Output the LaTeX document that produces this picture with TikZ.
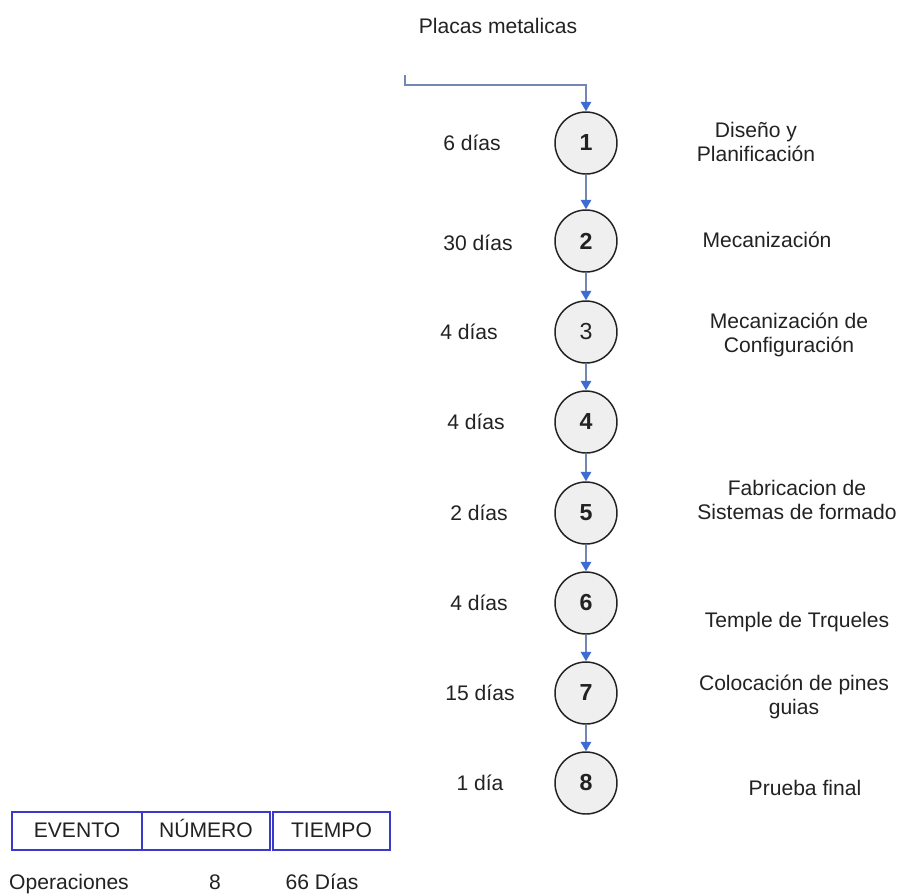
\documentclass[tikz,border=0pt]{standalone}
\usepackage{fontspec}
\setmainfont{Liberation Sans}
\usetikzlibrary{arrows.meta,positioning}
\definecolor{ink}{HTML}{222222}
\definecolor{linegray}{HTML}{7088B2}
\definecolor{tipblue}{HTML}{3D6CD4}
\definecolor{boxblue}{HTML}{3A3AC8}
\definecolor{ringfill}{HTML}{EFEFEF}

\begin{document}
\begin{tikzpicture}[x=0.016667cm,y=-0.016667cm,every node/.style={text=ink,font=\fontsize{10}{11.5}\selectfont},
  ev/.style={circle,draw=ink,line width=0.7pt,fill=ringfill,minimum size=1.033cm,inner sep=0pt,font=\fontsize{11}{12}\selectfont},
  lbl/.style={align=center},
  cell/.style={draw=boxblue,line width=0.6pt,minimum height=0.633cm,inner sep=0pt,text height=7.5pt,text depth=1.5pt},
  flow/.style={draw=linegray,line width=0.8pt,-{Triangle[length=4.5pt,width=5pt,color=tipblue]}}]
  \useasboundingbox (0,0) rectangle (899,896);
  % events
  \node[ev] (n1) at (586,143) {\bfseries 1}; \node[ev] (n2) at (586,241) {\bfseries 2};
  \node[ev] (n3) at (586,332) {3}; \node[ev] (n4) at (586,422) {\bfseries 4};
  \node[ev] (n5) at (586,513) {\bfseries 5}; \node[ev] (n6) at (586,603) {\bfseries 6};
  \node[ev] (n7) at (586,693) {\bfseries 7}; \node[ev] (n8) at (586,783) {\bfseries 8};
  \node (src) at (498,26) {Placas metalicas};
  \coordinate (feed) at (405,75);
  \draw[flow] (feed) -- ++(0,10) -| (n1);
  \foreach \i [count=\j from 2] in {1,...,7} \draw[flow] (n\i) -- (n\j);
  % times
  \node (t1) at (472,143) {6 días}; \node (t2) at (478,243) {30 días};
  \node (t3) at (469,332) {4 días}; \node (t4) at (476,422) {4 días};
  \node (t5) at (479,513) {2 días}; \node (t6) at (479,603) {4 días};
  \node (t7) at (480,693) {15 días}; \node (t8) at (480,783) {1 día};
  % tasks
  \node[lbl] (d1) at (756,142) {Diseño y\\Planificación};
  \node[lbl] (d2) at (767,240) {Mecanización};
  \node[lbl] (d3) at (789,335) {Mecanización de\\Configuración};
  \node[lbl] (d5) at (797,500) {Fabricacion de\\Sistemas de formado};
  \node[lbl] (d6) at (797,622) {Temple de Trqueles};
  \node[lbl] (d7) at (794,697) {Colocación de pines\\guias};
  \node[lbl] (d8) at (805,788) {Prueba final};
  % summary
  \node[cell,minimum width=2.167cm] (h1) at (77,831) {EVENTO};
  \node[cell,minimum width=2.133cm] (h2) at (206,831) {NÚMERO};
  \node[cell,minimum width=1.95cm] (h3) at (331.5,831) {TIEMPO};
  \node[anchor=base] (r1) at (69,889) {Operaciones}; \node[anchor=base] (r2) at (215,889) {8};
  \node[anchor=base] (r3) at (322,889) {66 Días};
\end{tikzpicture}
\end{document}
